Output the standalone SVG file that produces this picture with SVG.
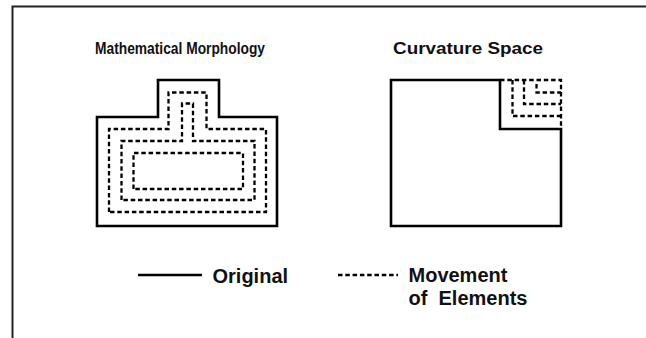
<svg xmlns="http://www.w3.org/2000/svg" width="646" height="338" viewBox="0 0 646 338">
<style>
.solid{fill:none;stroke:#000;stroke-width:2.6;stroke-linejoin:miter}
.dash{fill:none;stroke:#000;stroke-width:2.3;stroke-dasharray:4.5 2.8}
.frame{fill:none;stroke:#222;stroke-width:2}
.title{font-family:"Liberation Sans",Arial,sans-serif;font-weight:bold;font-size:17px;fill:#111}
.leg{font-family:"Liberation Sans",Arial,sans-serif;font-weight:bold;font-size:20px;fill:#111}
</style>
<rect width="646" height="338" fill="#fff"/>
<path class="frame" d="M12.5 338 V6.5 H646"/>
<g id="mm">
<text class="title" x="95" y="54" textLength="170" lengthAdjust="spacingAndGlyphs">Mathematical Morphology</text>
<path class="solid" d="M97 117 H158 V80 H219 V117 H277 V226 H97 Z"/>
<path class="dash" d="M109 212 V129 H168.5 V92.5 H206.5 V129 H266 V212 Z"/>
<path class="dash" d="M121.5 200 V141 H182 V103.5 H193 V141 H254.5 V200 Z"/>
<path class="dash" d="M133.5 189 V153 H243 V189 Z"/>
</g>
<g id="cs">
<text class="title" x="393" y="54" textLength="150" lengthAdjust="spacingAndGlyphs">Curvature Space</text>
<path class="solid" d="M391 80 H500 V129 H561 V226 H391 Z"/>
<path class="dash" d="M500 80 H561 V129"/>
<path class="dash" d="M512.5 80 V116 H561"/>
<path class="dash" d="M524 80 V104 H561"/>
<path class="dash" d="M536.5 84 V92.5 H561"/>
</g>
<g id="legend">
<line class="solid" x1="138" y1="275" x2="202" y2="275"/>
<text class="leg" x="212.5" y="282.5">Original</text>
<line class="dash" x1="338" y1="275" x2="398" y2="275"/>
<text class="leg" x="408.5" y="282">Movement</text>
<text class="leg" x="408.5" y="305" xml:space="preserve">of  Elements</text>
</g>
</svg>
